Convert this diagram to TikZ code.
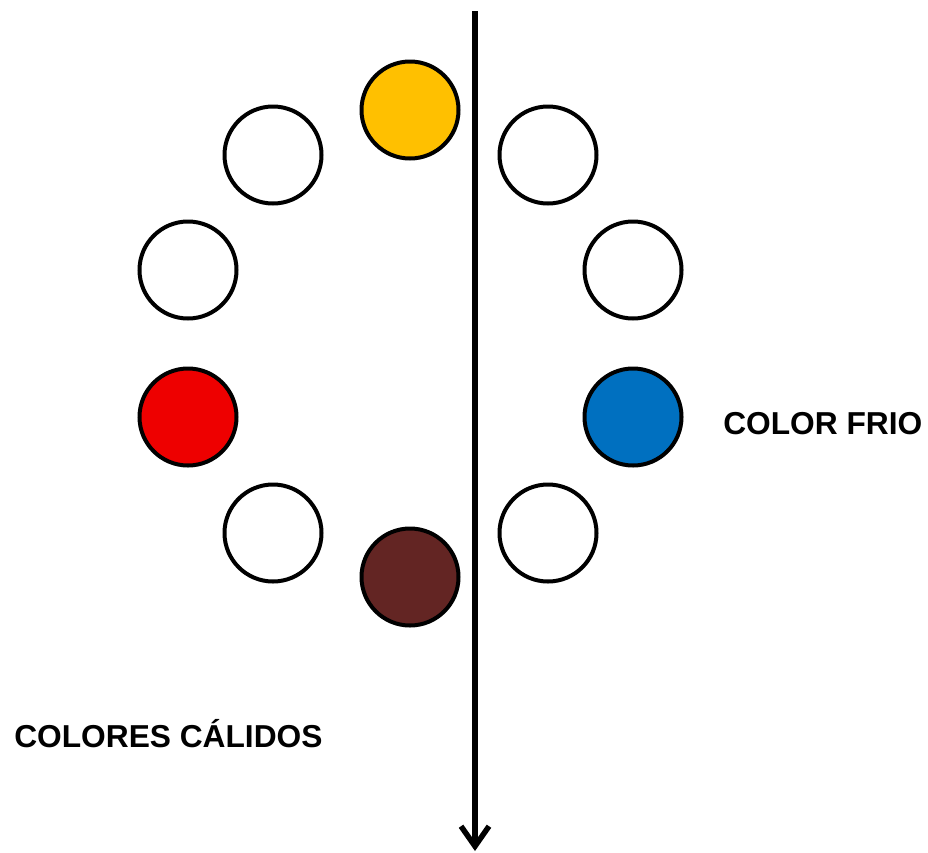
\documentclass[tikz,border=0pt]{standalone}
\usepackage{fontspec}
\setmainfont{Liberation Sans}
\usetikzlibrary{arrows.meta,positioning}

\definecolor{amarillo}{HTML}{FFC000}
\definecolor{rojo}{HTML}{EE0000}
\definecolor{azul}{HTML}{0070C0}
\definecolor{marron}{HTML}{632523}

\begin{document}
\begin{tikzpicture}[x=1pt,y=-1pt,semithick]
\tikzstyle{circulo}=[circle,draw=black,fill=white,line width=4pt,minimum size=97pt,inner sep=0pt]
\tikzstyle{etiqueta}=[font=\fontsize{31.7}{36}\selectfont\bfseries,inner sep=0pt,anchor=base west]
\useasboundingbox (0,0) rectangle (928,852);

% Eje vertical
\coordinate (arriba) at (475,11);
\coordinate (abajo) at (475,851);
\draw[line width=5.5pt,-{Straight Barb[length=20pt,width=28pt]}] (arriba) -- (abajo);

% Circulos del lado izquierdo
\node[circulo,fill=amarillo] (c1) at (410,110) {};
\node[circulo] (c2) at (273,155) {};
\node[circulo] (c3) at (188,270) {};
\node[circulo,fill=rojo] (c4) at (188,417) {};
\node[circulo] (c5) at (273,533) {};
\node[circulo,fill=marron] (c6) at (410,577) {};

% Circulos del lado derecho
\node[circulo] (c7) at (548,533) {};
\node[circulo,fill=azul] (c8) at (633,417) {};
\node[circulo] (c9) at (633,270) {};
\node[circulo] (c10) at (548,155) {};

% Textos
\node[etiqueta] (frio) at (723,434) {COLOR FRIO};
\node[etiqueta] (calidos) at (14,747) {COLORES CÁLIDOS};
\end{tikzpicture}
\end{document}
